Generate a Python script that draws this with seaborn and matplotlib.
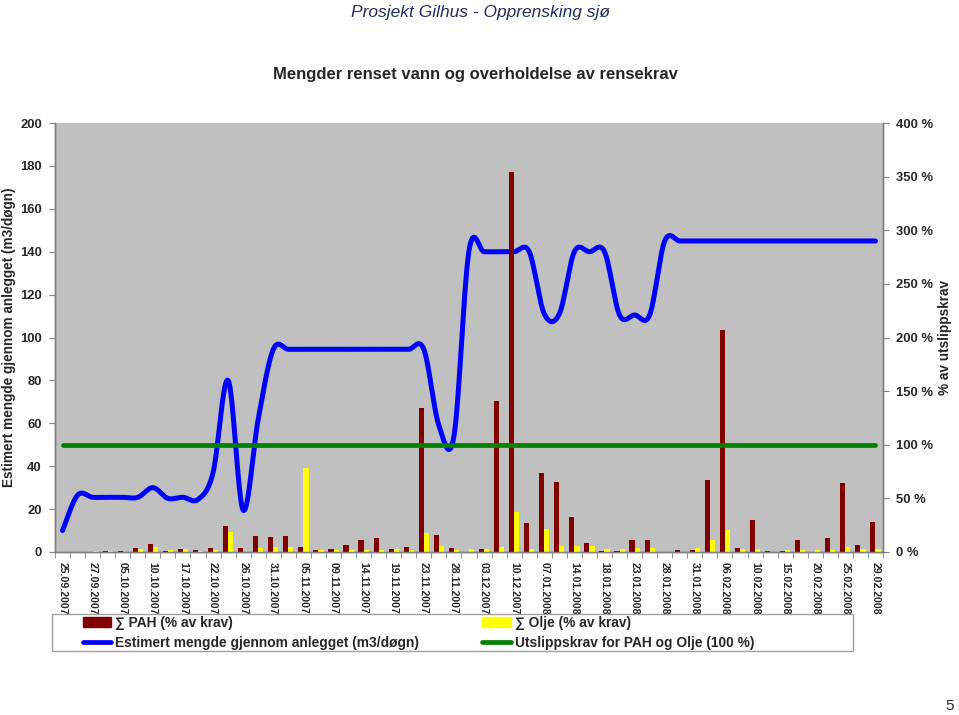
"""
Mengder renset vann og overholdelse av rensekrav
Prosjekt Gilhus - Opprensking sjø
"""

import numpy as np
import pandas as pd
import matplotlib
matplotlib.use("Agg")
import matplotlib.pyplot as plt
import seaborn as sns
from matplotlib.patches import Patch, Rectangle
from matplotlib.lines import Line2D


# DATA (en verdi per prøvedato, 55 datoer, hver andre dato vises på aksen)
datoer_vist = [
    "25.09.2007", "27.09.2007", "05.10.2007", "10.10.2007", "17.10.2007",
    "22.10.2007", "26.10.2007", "31.10.2007", "05.11.2007", "09.11.2007",
    "14.11.2007", "19.11.2007", "23.11.2007", "28.11.2007", "03.12.2007",
    "10.12.2007", "07.01.2008", "14.01.2008", "18.01.2008", "23.01.2008",
    "28.01.2008", "31.01.2008", "06.02.2008", "10.02.2008", "15.02.2008",
    "20.02.2008", "25.02.2008", "29.02.2008",
]

# Sum PAH (% av krav)
pah = [
    0, 0, 0.3, 1.2, 0.5, 3.4, 7, 1, 2.8, 2,
    4, 24, 3.4, 15, 14, 15, 5, 2, 2.5, 6.2,
    11, 12.7, 3.1, 4.3, 134, 15.8, 3.4, 0, 2.8, 141,
    354, 27, 73.7, 65, 33, 8.7, 0.5, 0.5, 11, 11,
    0, 2.2, 1.5, 66.8, 207, 3.4, 30, 0.5, 0.5, 11,
    0.3, 12.7, 64, 6.2, 28,
]

# Sum olje (% av krav)
olje = [
    0, 0, 0.7, 0.7, 0, 2.5, 4.7, 1.6, 2.8, 0.5,
    1.5, 19, 0.3, 3.4, 4.3, 4.3, 78, 1.5, 1.5, 1.9,
    1.9, 1.9, 3.1, 1.5, 17.4, 5.6, 1.5, 2.8, 2.8, 4.3,
    37.6, 2.8, 21.4, 5.9, 5.9, 5.6, 3.1, 2.8, 4, 4,
    0, 0, 4, 11, 20.2, 3.1, 2.8, 0, 1.9, 2.2,
    1.5, 1.9, 4.8, 3.1, 3.1,
]

# Estimert mengde gjennom anlegget (m3/døgn)
mengde = [
    10, 26.5, 25.5, 25.5, 25.5, 25.5, 30, 25, 25.5, 24.5,
    37, 80, 19.5, 62, 94.5, 94.5, 94.5, 94.5, 94.5, 94.5,
    94.5, 94.5, 94.5, 94.5, 94.5, 59, 54, 140.5, 140, 140,
    140, 140, 111, 111, 140, 140, 140, 110.5, 110.5, 110.5,
    145, 145, 145, 145, 145, 145, 145, 145, 145, 145,
    145, 145, 145, 145, 145,
]

# Utslippskrav for PAH og olje (100 %)
krav = [100] * len(pah)

venstre_ticks = list(range(0, 201, 20))
hoyre_ticks = list(range(0, 401, 50))
hoyre_labels = [f"{v} %" for v in hoyre_ticks]

FARGE_PAH = "#800000"
FARGE_OLJE = "#FFFF00"
FARGE_MENGDE = "#0000FF"
FARGE_KRAV = "#008000"


def glatt_kurve(x, y, steg=24):
    """Glatting som i Excel (Bezier med kontrollpunkter fra naboene)."""
    x = np.asarray(x, dtype=float)
    y = np.asarray(y, dtype=float)
    xp = np.concatenate([[x[0]], x, [x[-1]]])
    yp = np.concatenate([[y[0]], y, [y[-1]]])
    t = np.linspace(0, 1, steg)
    xs, ys = [], []
    for i in range(1, len(xp) - 2):
        p0x, p1x, p2x, p3x = xp[i - 1], xp[i], xp[i + 1], xp[i + 2]
        p0y, p1y, p2y, p3y = yp[i - 1], yp[i], yp[i + 1], yp[i + 2]
        b1x, b2x = p1x + (p2x - p0x) / 6, p2x - (p3x - p1x) / 6
        b1y, b2y = p1y + (p2y - p0y) / 6, p2y - (p3y - p1y) / 6
        bx = (1 - t) ** 3 * p1x + 3 * (1 - t) ** 2 * t * b1x + 3 * (1 - t) * t ** 2 * b2x + t ** 3 * p2x
        by = (1 - t) ** 3 * p1y + 3 * (1 - t) ** 2 * t * b1y + 3 * (1 - t) * t ** 2 * b2y + t ** 3 * p2y
        xs.append(bx if i == 1 else bx[1:])
        ys.append(by if i == 1 else by[1:])
    return np.concatenate(xs), np.concatenate(ys)


if __name__ == "__main__":

    sns.set_style("white")
    plt.rcParams["font.family"] = ["Liberation Sans", "DejaVu Sans"]
    plt.rcParams["font.weight"] = "bold"

    n = len(pah)
    idx = list(range(n))

    df_soyler = pd.DataFrame({
        "idx": idx * 2,
        "verdi": pah + olje,
        "serie": ["PAH"] * n + ["Olje"] * n,
    })

    W, H = 959, 715
    fig = plt.figure(figsize=(W / 100, H / 100), dpi=100)
    ax = fig.add_axes([55 / W, (H - 552) / H, 828 / W, 429 / H])
    ax.set_facecolor("#C0C0C0")
    ax2 = ax.twinx()

    # Mengde (venstre akse) - glattet linje
    gx, gy = glatt_kurve(idx, mengde)
    sns.lineplot(x=gx, y=gy, ax=ax, color=FARGE_MENGDE, linewidth=3.6,
                 sort=False, estimator=None, solid_capstyle="round")

    # Søyler (høyre akse, %)
    sns.barplot(
        data=df_soyler, x="idx", y="verdi", hue="serie",
        hue_order=["PAH", "Olje"], order=idx,
        palette=[FARGE_PAH, FARGE_OLJE], saturation=1,
        width=0.68, gap=0, errorbar=None, legend=False, ax=ax2,
        linewidth=0,
    )

    # Utslippskrav 100 %
    sns.lineplot(x=idx, y=krav, ax=ax2, color=FARGE_KRAV, linewidth=3.4,
                 estimator=None, solid_capstyle="round")

    # Akser
    ax.set_xlim(-0.5, n - 0.5)
    ax.set_ylim(0, 200)
    ax2.set_ylim(0, 400)

    ax.set_xticks(idx[::2])
    ax.set_xticklabels(datoer_vist, rotation=-90, fontsize=7.6,
                       fontweight="bold", va="top", ha="center")
    ax.set_xticks(np.arange(-0.5, n, 1), minor=True)
    ax.tick_params(axis="x", which="major", length=0, pad=7)
    ax.tick_params(axis="x", which="minor", length=4, color="#808080",
                   direction="out", bottom=True)

    ax.set_yticks(venstre_ticks)
    ax.set_yticklabels([str(v) for v in venstre_ticks], fontsize=9.4,
                       fontweight="bold")
    ax.tick_params(axis="y", length=4, color="#808080", direction="out",
                   pad=5.5, left=True)

    ax2.set_yticks(hoyre_ticks)
    ax2.set_yticklabels(hoyre_labels, fontsize=9.4, fontweight="bold")
    ax2.tick_params(axis="y", length=4, color="#808080", direction="out",
                    pad=5.5, right=True)

    ax.set_xlabel("")
    ax.set_ylabel("")
    ax2.set_xlabel("")
    ax2.set_ylabel("")

    for a in (ax, ax2):
        a.spines["top"].set_visible(False)
        for s in ("left", "right", "bottom"):
            a.spines[s].set_color("#808080")
            a.spines[s].set_linewidth(1)

    # Tekster
    fig.text(480 / W, 1 - 12 / H, "Prosjekt Gilhus - Opprensking sjø",
             ha="center", va="center", fontsize=12.5, fontstyle="italic",
             fontweight="normal", color="#1F2D5C")
    fig.text(475 / W, 1 - 75 / H,
             "Mengder renset vann og overholdelse av rensekrav",
             ha="center", va="center", fontsize=12, fontweight="bold")
    fig.text(9 / W, 1 - 337 / H,
             "Estimert mengde gjennom anlegget (m3/døgn)",
             ha="center", va="center", rotation=90, fontsize=9.8,
             fontweight="bold")
    fig.text(945 / W, 1 - 337 / H, "% av utslippskrav",
             ha="center", va="center", rotation=90, fontsize=9.8,
             fontweight="bold")
    fig.text(950 / W, 1 - 706 / H, "5", ha="center", va="center",
             fontsize=11, fontweight="normal")

    # Tegnforklaring
    handles = [
        Patch(facecolor=FARGE_PAH, edgecolor=FARGE_PAH),
        Line2D([], [], color=FARGE_MENGDE, linewidth=3.4),
        Patch(facecolor=FARGE_OLJE, edgecolor=FARGE_OLJE),
        Line2D([], [], color=FARGE_KRAV, linewidth=3.4),
    ]
    labels = [
        "∑ PAH (% av krav)",
        "Estimert mengde gjennom anlegget (m3/døgn)",
        "∑ Olje (% av krav)",
        "Utslippskrav for PAH og Olje (100 %)",
    ]
    fig.legend(
        handles, labels, ncol=2, loc="upper left",
        bbox_to_anchor=(83 / W, 1 - 616 / H), frameon=False,
        prop={"size": 9.9, "weight": "bold"},
        handlelength=2.05, handletextpad=0.3, columnspacing=4.6,
        labelspacing=0.42, borderpad=0, borderaxespad=0,
    )
    fig.add_artist(Rectangle((52 / W, 1 - 651 / H), 801 / W, 37 / H,
                             transform=fig.transFigure, fill=False,
                             edgecolor="#A0A0A0", linewidth=1))

    fig.savefig("out.png", dpi=100)
    print("Figur lagret: out.png")
